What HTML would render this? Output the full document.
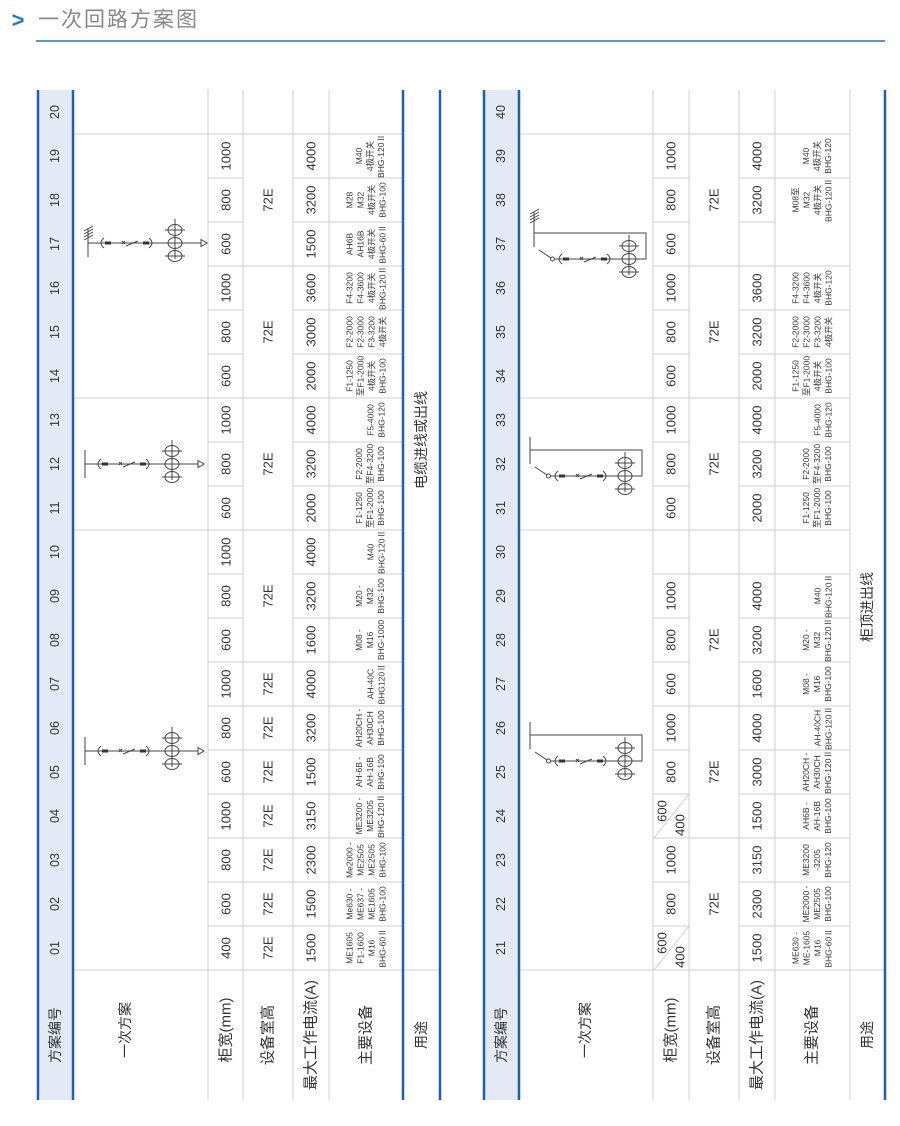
<!DOCTYPE html>
<html><head><meta charset="utf-8"><style>
html,body{margin:0;padding:0;background:#fff;}
svg{display:block;}
text{font-family:"Liberation Sans","Noto Sans CJK SC",sans-serif;fill:#333;dominant-baseline:central;text-anchor:middle;}
.n{font-size:12.5px;}
.v{font-size:13px;}
.e{font-size:8.5px;}
.h{font-size:14px;}
.g{stroke:#cfcfcf;stroke-width:1;}
.b{stroke:#1c5fb8;stroke-width:2.5;}
.d{stroke:#444;stroke-width:1;fill:none;}
</style></head><body>
<svg width="900" height="1126" viewBox="0 0 900 1126" xmlns="http://www.w3.org/2000/svg">
<defs>
<g id="ct">
<ellipse cx="0" cy="0" rx="7" ry="5.5" class="d"/>
</g>
<g id="chain">
<path class="d" d="M16,-5 Q10,0 16,5"/>
<rect x="17" y="-1.5" width="6" height="3" fill="#333"/>
<path class="d" d="M34,-2 l3,3 M34,1 l3,-3"/>
<path class="d" d="M38,3 L50,-2"/>
<rect x="55" y="-1.5" width="6" height="3" fill="#333"/>
<path class="d" d="M61,-5 Q67,0 61,5"/>
</g>
<g id="cts">
<path class="d" d="M0,-24 V16 M-10,-13 H10 M-10,13 H10"/>
<use href="#ct" x="0" y="-13"/><use href="#ct" x="0" y="0"/><use href="#ct" x="0" y="13"/>
</g>
<g id="dA">
<line class="d" x1="0" y1="-14" x2="0" y2="14" stroke-width="1.5"/>
<line class="d" x1="0" y1="0" x2="113" y2="0"/>
<use href="#chain"/>
<use href="#cts" x="87" y="0"/>
<path class="d" d="M113,-3.5 L119,0 L113,3.5 Z"/>
</g>
<g id="dB">
<line class="d" x1="0" y1="-13" x2="0" y2="14" stroke-width="1.5"/>
<path class="d" d="M0,0 H112 V26 H20"/>
<path class="d" d="M5,17 L17,25"/>
<circle cx="18.5" cy="26" r="2" class="d"/>
<use href="#chain" x="12" y="26"/>
<use href="#cts" x="95" y="26"/>
</g>
<g id="hatch"><path class="d" d="M-4,-12 l9,-5 M-4,-9 l9,-5 M-4,-6 l9,-5 M-4,-3 l9,-5"/></g>
</defs>

<!-- title -->
<text x="18" y="20" style="font-size:22px;font-weight:bold;fill:#1c7ad0;">&gt;</text>
<text x="38" y="20" style="font-size:21px;fill:#888;text-anchor:start;letter-spacing:2px">一次回路方案图</text>
<line x1="36" y1="41" x2="885" y2="41" stroke="#2f6fc4" stroke-width="1.5"/>

<!-- header bg -->
<rect x="38" y="90" width="35" height="1010" fill="#e3eaf6"/>
<rect x="484" y="90" width="35" height="1010" fill="#e3eaf6"/>

<!-- LEFT grid -->
<g class="g">
<line x1="208" y1="90" x2="208" y2="1100"/><line x1="243" y1="90" x2="243" y2="1100"/>
<line x1="293" y1="90" x2="293" y2="1100"/><line x1="329" y1="90" x2="329" y2="1100"/>
<line x1="73" y1="970" x2="440" y2="970"/>
<line x1="73" y1="530" x2="208" y2="530"/><line x1="73" y1="398" x2="208" y2="398"/><line x1="73" y1="134" x2="208" y2="134"/>
<!-- 柜宽, 电流, 设备 all rows -->
<path d="M208,926H243M208,882H243M208,838H243M208,794H243M208,750H243M208,706H243M208,662H243M208,618H243M208,574H243M208,530H243M208,486H243M208,442H243M208,398H243M208,354H243M208,310H243M208,266H243M208,222H243M208,178H243M208,134H243"/>
<path d="M293,926H403M293,882H403M293,838H403M293,794H403M293,750H403M293,706H403M293,662H403M293,618H403M293,574H403M293,530H403M293,486H403M293,442H403M293,398H403M293,354H403M293,310H403M293,266H403M293,222H403M293,178H403M293,134H403"/>
<path d="M243,926H293M243,882H293M243,838H293M243,794H293M243,750H293M243,706H293M243,662H293M243,530H293M243,398H293M243,266H293M243,134H293"/>
</g>
<g class="b">
<line x1="38" y1="90" x2="38" y2="1100"/><line x1="73" y1="90" x2="73" y2="1100"/>
<line x1="403" y1="90" x2="403" y2="1100"/><line x1="440" y1="90" x2="440" y2="1100"/>
</g>

<!-- RIGHT grid -->
<g class="g">
<line x1="653" y1="90" x2="653" y2="1100"/><line x1="689" y1="90" x2="689" y2="1100"/>
<line x1="739" y1="90" x2="739" y2="1100"/><line x1="775" y1="90" x2="775" y2="1100"/>
<line x1="850" y1="90" x2="850" y2="1100"/>
<line x1="519" y1="970" x2="885" y2="970"/>
<line x1="519" y1="530" x2="653" y2="530"/><line x1="519" y1="398" x2="653" y2="398"/><line x1="519" y1="134" x2="653" y2="134"/>
<path d="M653,926H689M653,882H689M653,838H689M653,794H689M653,750H689M653,706H689M653,662H689M653,618H689M653,574H689M653,530H689M653,486H689M653,442H689M653,398H689M653,354H689M653,310H689M653,266H689M653,222H689M653,178H689M653,134H689"/>
<path d="M739,926H850M739,882H850M739,838H850M739,794H850M739,750H850M739,706H850M739,662H850M739,618H850M739,574H850M739,530H850M739,486H850M739,442H850M739,398H850M739,354H850M739,310H850M739,266H850M739,178H850M739,134H850M739,222H775"/>
<path d="M689,838H739M689,706H739M689,574H739M689,530H739M689,398H739M689,266H739M689,134H739"/>
<path d="M654,970L689,926M654,838L689,794"/>
</g>
<g class="b">
<line x1="484" y1="90" x2="484" y2="1100"/><line x1="519" y1="90" x2="519" y2="1100"/>
<line x1="885" y1="90" x2="885" y2="1100"/>
</g>

<!-- LEFT labels -->
<text class="h" transform="translate(55,1035) rotate(-90)">方案编号</text>
<text class="h" transform="translate(125,1030) rotate(-90)">一次方案</text>
<text class="h" style="font-size:15px" transform="translate(226,1030) rotate(-90)">柜宽(mm)</text>
<text class="h" style="font-size:15px" transform="translate(268,1035) rotate(-90)">设备室高</text>
<text class="h" style="font-size:15px" transform="translate(311,1035) rotate(-90)">最大工作电流(A)</text>
<text class="h" style="font-size:15px" transform="translate(366,1035) rotate(-90)">主要设备</text>
<text class="h" transform="translate(421,1035) rotate(-90)">用途</text>
<text class="h" transform="translate(421,440) rotate(-90)">电缆进线或出线</text>

<g class="n">
<text transform="translate(55,948) rotate(-90)">01</text><text transform="translate(55,904) rotate(-90)">02</text><text transform="translate(55,860) rotate(-90)">03</text><text transform="translate(55,816) rotate(-90)">04</text><text transform="translate(55,772) rotate(-90)">05</text><text transform="translate(55,728) rotate(-90)">06</text><text transform="translate(55,684) rotate(-90)">07</text><text transform="translate(55,640) rotate(-90)">08</text><text transform="translate(55,596) rotate(-90)">09</text><text transform="translate(55,552) rotate(-90)">10</text><text transform="translate(55,508) rotate(-90)">11</text><text transform="translate(55,464) rotate(-90)">12</text><text transform="translate(55,420) rotate(-90)">13</text><text transform="translate(55,376) rotate(-90)">14</text><text transform="translate(55,332) rotate(-90)">15</text><text transform="translate(55,288) rotate(-90)">16</text><text transform="translate(55,244) rotate(-90)">17</text><text transform="translate(55,200) rotate(-90)">18</text><text transform="translate(55,156) rotate(-90)">19</text><text transform="translate(55,112) rotate(-90)">20</text>
<text transform="translate(501,948) rotate(-90)">21</text><text transform="translate(501,904) rotate(-90)">22</text><text transform="translate(501,860) rotate(-90)">23</text><text transform="translate(501,816) rotate(-90)">24</text><text transform="translate(501,772) rotate(-90)">25</text><text transform="translate(501,728) rotate(-90)">26</text><text transform="translate(501,684) rotate(-90)">27</text><text transform="translate(501,640) rotate(-90)">28</text><text transform="translate(501,596) rotate(-90)">29</text><text transform="translate(501,552) rotate(-90)">30</text><text transform="translate(501,508) rotate(-90)">31</text><text transform="translate(501,464) rotate(-90)">32</text><text transform="translate(501,420) rotate(-90)">33</text><text transform="translate(501,376) rotate(-90)">34</text><text transform="translate(501,332) rotate(-90)">35</text><text transform="translate(501,288) rotate(-90)">36</text><text transform="translate(501,244) rotate(-90)">37</text><text transform="translate(501,200) rotate(-90)">38</text><text transform="translate(501,156) rotate(-90)">39</text><text transform="translate(501,112) rotate(-90)">40</text>
</g>

<!-- LEFT values -->
<g class="v">
<text transform="translate(226,948) rotate(-90)">400</text><text transform="translate(226,904) rotate(-90)">600</text><text transform="translate(226,860) rotate(-90)">800</text><text transform="translate(226,816) rotate(-90)">1000</text><text transform="translate(226,772) rotate(-90)">600</text><text transform="translate(226,728) rotate(-90)">800</text><text transform="translate(226,684) rotate(-90)">1000</text><text transform="translate(226,640) rotate(-90)">600</text><text transform="translate(226,596) rotate(-90)">800</text><text transform="translate(226,552) rotate(-90)">1000</text><text transform="translate(226,508) rotate(-90)">600</text><text transform="translate(226,464) rotate(-90)">800</text><text transform="translate(226,420) rotate(-90)">1000</text><text transform="translate(226,376) rotate(-90)">600</text><text transform="translate(226,332) rotate(-90)">800</text><text transform="translate(226,288) rotate(-90)">1000</text><text transform="translate(226,244) rotate(-90)">600</text><text transform="translate(226,200) rotate(-90)">800</text><text transform="translate(226,156) rotate(-90)">1000</text>
<text transform="translate(268,948) rotate(-90)">72E</text><text transform="translate(268,904) rotate(-90)">72E</text><text transform="translate(268,860) rotate(-90)">72E</text><text transform="translate(268,816) rotate(-90)">72E</text><text transform="translate(268,772) rotate(-90)">72E</text><text transform="translate(268,728) rotate(-90)">72E</text><text transform="translate(268,684) rotate(-90)">72E</text><text transform="translate(268,596) rotate(-90)">72E</text><text transform="translate(268,464) rotate(-90)">72E</text><text transform="translate(268,332) rotate(-90)">72E</text><text transform="translate(268,200) rotate(-90)">72E</text>
<text transform="translate(311,948) rotate(-90)">1500</text><text transform="translate(311,904) rotate(-90)">1500</text><text transform="translate(311,860) rotate(-90)">2300</text><text transform="translate(311,816) rotate(-90)">3150</text><text transform="translate(311,772) rotate(-90)">1500</text><text transform="translate(311,728) rotate(-90)">3200</text><text transform="translate(311,684) rotate(-90)">4000</text><text transform="translate(311,640) rotate(-90)">1600</text><text transform="translate(311,596) rotate(-90)">3200</text><text transform="translate(311,552) rotate(-90)">4000</text><text transform="translate(311,508) rotate(-90)">2000</text><text transform="translate(311,464) rotate(-90)">3200</text><text transform="translate(311,420) rotate(-90)">4000</text><text transform="translate(311,376) rotate(-90)">2000</text><text transform="translate(311,332) rotate(-90)">3000</text><text transform="translate(311,288) rotate(-90)">3600</text><text transform="translate(311,244) rotate(-90)">1500</text><text transform="translate(311,200) rotate(-90)">3200</text><text transform="translate(311,156) rotate(-90)">4000</text>
</g>
<g class="e">
<text transform="translate(366,948) rotate(-90)"><tspan x="0" y="-16.5">ME1605</tspan><tspan x="0" y="-5.5">F1-1600</tspan><tspan x="0" y="5.5">M16</tspan><tspan x="0" y="16.5">BHG-60Ⅱ</tspan></text>
<text transform="translate(366,904) rotate(-90)"><tspan x="0" y="-16.5">Me630 -</tspan><tspan x="0" y="-5.5">ME637 -</tspan><tspan x="0" y="5.5">ME1605</tspan><tspan x="0" y="16.5">BHG-100</tspan></text>
<text transform="translate(366,860) rotate(-90)"><tspan x="0" y="-16.5">Me2000 -</tspan><tspan x="0" y="-5.5">ME2505</tspan><tspan x="0" y="5.5">ME2505</tspan><tspan x="0" y="16.5">BHG-100</tspan></text>
<text transform="translate(370,816) rotate(-90)"><tspan x="0" y="-11">ME3200 -</tspan><tspan x="0" y="0">ME3205</tspan><tspan x="0" y="11">BHG-120Ⅱ</tspan></text>
<text transform="translate(370,772) rotate(-90)"><tspan x="0" y="-11">AH-6B -</tspan><tspan x="0" y="0">AH-16B</tspan><tspan x="0" y="11">BHG-100</tspan></text>
<text transform="translate(370,728) rotate(-90)"><tspan x="0" y="-11">AH20CH -</tspan><tspan x="0" y="0">AH30CH</tspan><tspan x="0" y="11">BHG-100</tspan></text>
<text transform="translate(376,684) rotate(-90)"><tspan x="0" y="-5.5">AH-40C</tspan><tspan x="0" y="5.5">BHG120Ⅱ</tspan></text>
<text transform="translate(370,640) rotate(-90)"><tspan x="0" y="-11">M08 -</tspan><tspan x="0" y="0">M16</tspan><tspan x="0" y="11">BHG-1000</tspan></text>
<text transform="translate(370,596) rotate(-90)"><tspan x="0" y="-11">M20 -</tspan><tspan x="0" y="0">M32</tspan><tspan x="0" y="11">BHG-100</tspan></text>
<text transform="translate(376,552) rotate(-90)"><tspan x="0" y="-5.5">M40</tspan><tspan x="0" y="5.5">BHG-120Ⅱ</tspan></text>
<text transform="translate(370,508) rotate(-90)"><tspan x="0" y="-11">F1-1250</tspan><tspan x="0" y="0">至F1-2000</tspan><tspan x="0" y="11">BHG-100</tspan></text>
<text transform="translate(370,464) rotate(-90)"><tspan x="0" y="-11">F2-2000</tspan><tspan x="0" y="0">至F4-3200</tspan><tspan x="0" y="11">BHG-100</tspan></text>
<text transform="translate(376,420) rotate(-90)"><tspan x="0" y="-5.5">F5-4000</tspan><tspan x="0" y="5.5">BHG-120</tspan></text>
<text transform="translate(366,376) rotate(-90)"><tspan x="0" y="-16.5">F1-1250</tspan><tspan x="0" y="-5.5">至F1-2000</tspan><tspan x="0" y="5.5">4极开关</tspan><tspan x="0" y="16.5">BHG-100</tspan></text>
<text transform="translate(366,332) rotate(-90)"><tspan x="0" y="-16.5">F2-2000</tspan><tspan x="0" y="-5.5">F2-3000</tspan><tspan x="0" y="5.5">F3-3200</tspan><tspan x="0" y="16.5">4极开关</tspan></text>
<text transform="translate(366,288) rotate(-90)"><tspan x="0" y="-16.5">F4-3200</tspan><tspan x="0" y="-5.5">F4-3600</tspan><tspan x="0" y="5.5">4极开关</tspan><tspan x="0" y="16.5">BHG-120Ⅱ</tspan></text>
<text transform="translate(366,244) rotate(-90)"><tspan x="0" y="-16.5">AH6B</tspan><tspan x="0" y="-5.5">AH16B</tspan><tspan x="0" y="5.5">4极开关</tspan><tspan x="0" y="16.5">BHG-60Ⅱ</tspan></text>
<text transform="translate(366,200) rotate(-90)"><tspan x="0" y="-16.5">M28</tspan><tspan x="0" y="-5.5">M32</tspan><tspan x="0" y="5.5">4极开关</tspan><tspan x="0" y="16.5">BHG-100</tspan></text>
<text transform="translate(370,156) rotate(-90)"><tspan x="0" y="-11">M40</tspan><tspan x="0" y="0">4极开关</tspan><tspan x="0" y="11">BHG-120Ⅱ</tspan></text>
</g>

<!-- LEFT diagrams -->
<use href="#dA" x="85" y="751"/>
<use href="#dA" x="85" y="464"/>
<use href="#dA" x="88" y="243"/>
<use href="#hatch" x="88" y="243"/>

<!-- RIGHT labels -->
<text class="h" transform="translate(501,1035) rotate(-90)">方案编号</text>
<text class="h" transform="translate(585,1030) rotate(-90)">一次方案</text>
<text class="h" style="font-size:15px" transform="translate(671,1030) rotate(-90)">柜宽(mm)</text>
<text class="h" style="font-size:15px" transform="translate(714,1035) rotate(-90)">设备室高</text>
<text class="h" style="font-size:15px" transform="translate(757,1035) rotate(-90)">最大工作电流(A)</text>
<text class="h" style="font-size:15px" transform="translate(812,1035) rotate(-90)">主要设备</text>
<text class="h" transform="translate(867,1035) rotate(-90)">用途</text>
<text class="h" transform="translate(867,607) rotate(-90)">柜顶进出线</text>

<g class="v">
<text transform="translate(662,943) rotate(-90)">600</text><text transform="translate(680,957) rotate(-90)">400</text>
<text transform="translate(671,904) rotate(-90)">800</text><text transform="translate(671,860) rotate(-90)">1000</text>
<text transform="translate(662,811) rotate(-90)">600</text><text transform="translate(680,825) rotate(-90)">400</text>
<text transform="translate(671,772) rotate(-90)">800</text><text transform="translate(671,728) rotate(-90)">1000</text><text transform="translate(671,684) rotate(-90)">600</text><text transform="translate(671,640) rotate(-90)">800</text><text transform="translate(671,596) rotate(-90)">1000</text><text transform="translate(671,508) rotate(-90)">600</text><text transform="translate(671,464) rotate(-90)">800</text><text transform="translate(671,420) rotate(-90)">1000</text><text transform="translate(671,376) rotate(-90)">600</text><text transform="translate(671,332) rotate(-90)">800</text><text transform="translate(671,288) rotate(-90)">1000</text><text transform="translate(671,244) rotate(-90)">600</text><text transform="translate(671,200) rotate(-90)">800</text><text transform="translate(671,156) rotate(-90)">1000</text>
<text transform="translate(714,904) rotate(-90)">72E</text><text transform="translate(714,772) rotate(-90)">72E</text><text transform="translate(714,640) rotate(-90)">72E</text><text transform="translate(714,464) rotate(-90)">72E</text><text transform="translate(714,332) rotate(-90)">72E</text><text transform="translate(714,200) rotate(-90)">72E</text>
<text transform="translate(757,948) rotate(-90)">1500</text><text transform="translate(757,904) rotate(-90)">2300</text><text transform="translate(757,860) rotate(-90)">3150</text><text transform="translate(757,816) rotate(-90)">1500</text><text transform="translate(757,772) rotate(-90)">3000</text><text transform="translate(757,728) rotate(-90)">4000</text><text transform="translate(757,684) rotate(-90)">1600</text><text transform="translate(757,640) rotate(-90)">3200</text><text transform="translate(757,596) rotate(-90)">4000</text><text transform="translate(757,508) rotate(-90)">2000</text><text transform="translate(757,464) rotate(-90)">3200</text><text transform="translate(757,420) rotate(-90)">4000</text><text transform="translate(757,376) rotate(-90)">2000</text><text transform="translate(757,332) rotate(-90)">3200</text><text transform="translate(757,288) rotate(-90)">3600</text><text transform="translate(757,200) rotate(-90)">3200</text><text transform="translate(757,156) rotate(-90)">4000</text>
</g>
<g class="e">
<text transform="translate(812,948) rotate(-90)"><tspan x="0" y="-16.5">ME630 -</tspan><tspan x="0" y="-5.5">ME-1605</tspan><tspan x="0" y="5.5">M16</tspan><tspan x="0" y="16.5">BHG-60Ⅱ</tspan></text>
<text transform="translate(817,904) rotate(-90)"><tspan x="0" y="-11">ME2000 -</tspan><tspan x="0" y="0">ME2505</tspan><tspan x="0" y="11">BHG-100</tspan></text>
<text transform="translate(817,860) rotate(-90)"><tspan x="0" y="-11">ME3200</tspan><tspan x="0" y="0">-3205</tspan><tspan x="0" y="11">BHG-120</tspan></text>
<text transform="translate(817,816) rotate(-90)"><tspan x="0" y="-11">AH6B -</tspan><tspan x="0" y="0">AH-16B</tspan><tspan x="0" y="11">BHG-100</tspan></text>
<text transform="translate(817,772) rotate(-90)"><tspan x="0" y="-11">AH20CH -</tspan><tspan x="0" y="0">AH30CH</tspan><tspan x="0" y="11">BHG-120Ⅱ</tspan></text>
<text transform="translate(823,728) rotate(-90)"><tspan x="0" y="-5.5">AH-40CH</tspan><tspan x="0" y="5.5">BHG-120Ⅱ</tspan></text>
<text transform="translate(817,684) rotate(-90)"><tspan x="0" y="-11">M08 -</tspan><tspan x="0" y="0">M16</tspan><tspan x="0" y="11">BHG-100</tspan></text>
<text transform="translate(817,640) rotate(-90)"><tspan x="0" y="-11">M20 -</tspan><tspan x="0" y="0">M32</tspan><tspan x="0" y="11">BHG-120Ⅱ</tspan></text>
<text transform="translate(823,596) rotate(-90)"><tspan x="0" y="-5.5">M40</tspan><tspan x="0" y="5.5">BHG-120Ⅱ</tspan></text>
<text transform="translate(817,508) rotate(-90)"><tspan x="0" y="-11">F1-1250</tspan><tspan x="0" y="0">至F1-2000</tspan><tspan x="0" y="11">BHG-100</tspan></text>
<text transform="translate(817,464) rotate(-90)"><tspan x="0" y="-11">F2-2000</tspan><tspan x="0" y="0">至F4-3200</tspan><tspan x="0" y="11">BHG-100</tspan></text>
<text transform="translate(823,420) rotate(-90)"><tspan x="0" y="-5.5">F5-4000</tspan><tspan x="0" y="5.5">BHG-120</tspan></text>
<text transform="translate(812,376) rotate(-90)"><tspan x="0" y="-16.5">F1-1250</tspan><tspan x="0" y="-5.5">至F1-2000</tspan><tspan x="0" y="5.5">4极开关</tspan><tspan x="0" y="16.5">BHG-100</tspan></text>
<text transform="translate(812,332) rotate(-90)"><tspan x="0" y="-16.5">F2-2000</tspan><tspan x="0" y="-5.5">F2-3000</tspan><tspan x="0" y="5.5">F3-3200</tspan><tspan x="0" y="16.5">4极开关</tspan></text>
<text transform="translate(812,288) rotate(-90)"><tspan x="0" y="-16.5">F4-3200</tspan><tspan x="0" y="-5.5">F4-3600</tspan><tspan x="0" y="5.5">4极开关</tspan><tspan x="0" y="16.5">BHG-120</tspan></text>
<text transform="translate(812,200) rotate(-90)"><tspan x="0" y="-16.5">M08至</tspan><tspan x="0" y="-5.5">M32</tspan><tspan x="0" y="5.5">4极开关</tspan><tspan x="0" y="16.5">BHG-120Ⅱ</tspan></text>
<text transform="translate(817,156) rotate(-90)"><tspan x="0" y="-11">M40</tspan><tspan x="0" y="0">4极开关</tspan><tspan x="0" y="11">BHG-120</tspan></text>
</g>

<!-- RIGHT diagrams -->
<use href="#dB" x="530" y="735"/>
<use href="#dB" x="530" y="450"/>
<use href="#dB" x="534" y="233"/>
<line class="d" x1="534" y1="233" x2="534" y2="212" stroke-width="1.5"/>
<use href="#hatch" x="534" y="226"/>
</svg>
</body></html>
